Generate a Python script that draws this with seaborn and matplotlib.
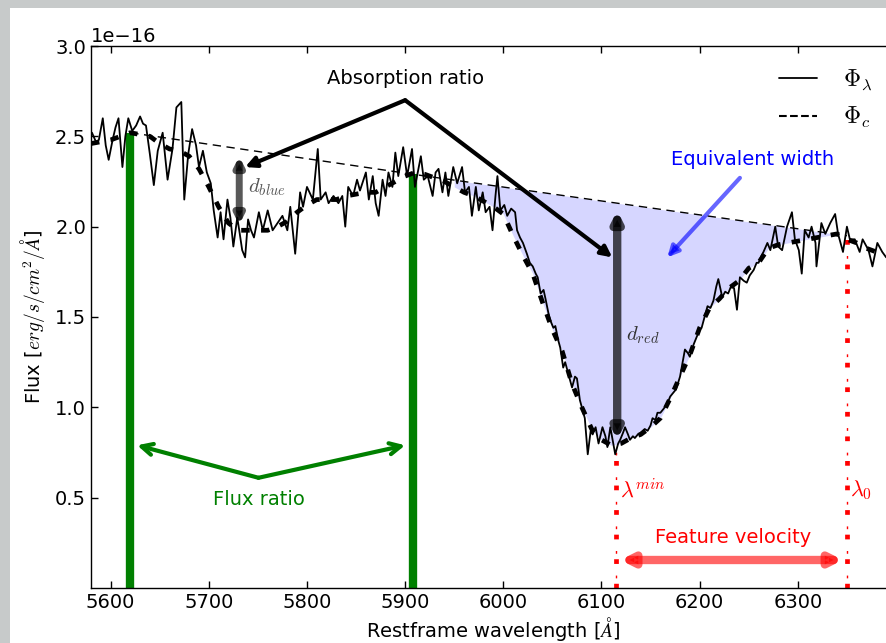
import numpy as np
import matplotlib
matplotlib.use('Agg')
import matplotlib.pyplot as plt
import seaborn as sns
import pandas as pd
from matplotlib.patches import Rectangle
from matplotlib.lines import Line2D

# ---------------- data (flux in units of 1e-16 erg/s/cm^2/A) ----------------
wave = [5581, 5585, 5588, 5592, 5595, 5598, 5602, 5605, 5608, 5612, 5615, 5618,
        5622, 5626, 5630, 5633, 5636, 5640, 5644, 5648, 5653, 5658, 5663, 5667,
        5672, 5675, 5679, 5683, 5687, 5690, 5694, 5698, 5702, 5705, 5709, 5712,
        5715, 5719, 5722, 5725, 5729, 5731, 5734, 5737, 5740, 5743, 5746, 5751,
        5755, 5760, 5765, 5770, 5775, 5780, 5783, 5788, 5793, 5796, 5800, 5806,
        5811, 5814, 5819, 5822, 5827, 5832, 5836, 5839, 5842, 5847, 5851, 5854,
        5860, 5863, 5867, 5870, 5873, 5877, 5880, 5883, 5887, 5890, 5893, 5898,
        5902, 5907, 5910, 5916, 5919, 5923, 5928, 5931, 5934, 5938, 5941, 5944,
        5949, 5953, 5958, 5961, 5965, 5968, 5972, 5975, 5979, 5982, 5986, 5989,
        5992, 5994, 5997, 6001, 6004, 6008, 6012, 6014, 6017, 6020, 6024, 6027,
        6030, 6033, 6035, 6038, 6041, 6043, 6046, 6048, 6051, 6053, 6056, 6058,
        6061, 6063, 6066, 6070, 6073, 6075, 6078, 6080, 6083, 6086, 6089, 6091,
        6094, 6097, 6101, 6104, 6106, 6109, 6112, 6114, 6117, 6119, 6122, 6124,
        6127, 6129, 6132, 6134, 6137, 6140, 6144, 6147, 6150, 6152, 6155, 6157,
        6160, 6163, 6167, 6170, 6173, 6176, 6180, 6183, 6185, 6188, 6190, 6194,
        6197, 6200, 6202, 6205, 6208, 6211, 6214, 6217, 6219, 6223, 6226, 6229,
        6232, 6235, 6238, 6241, 6245, 6248, 6251, 6255, 6258, 6260, 6263, 6265,
        6269, 6272, 6277, 6280, 6284, 6289, 6294, 6297, 6301, 6304, 6307, 6311,
        6314, 6318, 6319, 6324, 6328, 6333, 6338, 6341, 6346, 6350, 6353, 6358,
        6363, 6366, 6372, 6376, 6381, 6386, 6390, 6395, 6400]
flux = [2.52, 2.47, 2.48, 2.60, 2.45, 2.37, 2.48, 2.55, 2.60, 2.33, 2.50, 2.60,
        2.53, 2.56, 2.61, 2.57, 2.56, 2.40, 2.23, 2.42, 2.52, 2.26, 2.43, 2.66,
        2.69, 2.15, 2.40, 2.54, 2.45, 2.33, 2.42, 2.30, 2.24, 2.09, 1.94, 2.08,
        1.93, 2.15, 2.05, 1.89, 2.05, 1.98, 1.87, 1.83, 2.04, 1.98, 1.94, 2.08,
        1.98, 2.09, 1.98, 2.02, 2.06, 1.98, 2.11, 1.85, 2.19, 2.11, 2.22, 2.15,
        2.43, 2.15, 2.19, 2.13, 2.17, 2.13, 2.17, 2.00, 2.22, 2.17, 2.26, 2.20,
        2.30, 2.15, 2.28, 2.13, 2.06, 2.26, 2.17, 2.30, 2.22, 2.41, 2.28, 2.44,
        2.28, 2.43, 2.22, 2.39, 2.26, 2.28, 2.17, 2.30, 2.32, 2.19, 2.30, 2.17,
        2.33, 2.24, 2.33, 2.19, 2.22, 2.06, 2.22, 2.09, 2.19, 2.08, 2.11, 1.98,
        2.17, 2.28, 2.09, 2.12, 2.06, 2.10, 2.08, 1.98, 1.94, 1.91, 1.85, 1.80,
        1.78, 1.74, 1.72, 1.63, 1.65, 1.60, 1.52, 1.48, 1.44, 1.45, 1.37, 1.33,
        1.22, 1.25, 1.19, 1.11, 1.17, 1.16, 1.04, 1.00, 0.94, 0.74, 0.87, 0.85,
        0.89, 0.80, 0.89, 0.84, 0.78, 0.89, 0.80, 0.74, 0.80, 0.82, 0.86, 0.89,
        0.85, 0.82, 0.84, 0.83, 0.85, 0.86, 0.88, 0.87, 0.90, 0.94, 0.93, 0.97,
        0.97, 0.99, 1.02, 1.06, 1.08, 1.10, 1.17, 1.26, 1.32, 1.30, 1.28, 1.35,
        1.39, 1.43, 1.44, 1.50, 1.56, 1.55, 1.59, 1.67, 1.71, 1.61, 1.64, 1.63,
        1.67, 1.66, 1.54, 1.72, 1.70, 1.69, 1.73, 1.76, 1.80, 1.80, 1.84, 1.86,
        1.91, 1.87, 2.00, 1.89, 1.87, 2.00, 2.08, 1.93, 1.87, 1.74, 1.98, 1.94,
        2.00, 1.91, 1.78, 2.02, 1.96, 2.02, 2.07, 1.96, 1.86, 2.00, 1.93, 1.93,
        1.86, 1.93, 1.87, 1.78, 1.91, 1.86, 1.83, 1.85, 1.82]

smooth_wave = [5580, 5590, 5600, 5610, 5620, 5630, 5640, 5650, 5660, 5670, 5680,
               5690, 5700, 5710, 5720, 5730, 5740, 5750, 5760, 5770, 5780, 5790,
               5800, 5810, 5820, 5830, 5840, 5850, 5860, 5870, 5880, 5890, 5900,
               5910, 5920, 5930, 5940, 5950, 5960, 5970, 5980, 5990, 6000, 6010,
               6020, 6030, 6040, 6050, 6060, 6070, 6080, 6090, 6100, 6110, 6120,
               6130, 6140, 6150, 6160, 6170, 6180, 6190, 6200, 6210, 6220, 6230,
               6240, 6250, 6260, 6270, 6280, 6290, 6300, 6310, 6320, 6330, 6340,
               6350, 6360, 6370, 6380, 6390, 6400]
smooth_flux = [2.46, 2.47, 2.48, 2.50, 2.52, 2.51, 2.50, 2.46, 2.43, 2.42, 2.39,
               2.32, 2.22, 2.11, 2.02, 1.98, 1.98, 1.98, 1.98, 2.00, 2.03, 2.08,
               2.12, 2.15, 2.15, 2.15, 2.17, 2.18, 2.19, 2.19, 2.22, 2.25, 2.28,
               2.30, 2.29, 2.27, 2.25, 2.22, 2.19, 2.17, 2.14, 2.11, 2.07, 1.95,
               1.84, 1.74, 1.58, 1.43, 1.31, 1.13, 1.00, 0.88, 0.82, 0.79, 0.80,
               0.83, 0.85, 0.89, 0.94, 1.05, 1.17, 1.29, 1.44, 1.55, 1.60, 1.66,
               1.70, 1.77, 1.80, 1.88, 1.90, 1.91, 1.92, 1.93, 1.94, 1.95, 1.96,
               1.93, 1.91, 1.88, 1.86, 1.86, 1.85]

cont_wave = [5620, 5908, 6350]
cont_flux = [2.52, 2.29, 1.95]

ratio_wave = [5620, 5908]
ratio_top = [2.52, 2.29]

vel_wave = [6115, 6350]
vel_top = [0.76, 1.95]

ew_range = [5950, 6348]

xticks = [5600, 5700, 5800, 5900, 6000, 6100, 6200, 6300]
yticks = [0.5, 1.0, 1.5, 2.0, 2.5, 3.0]
SCALE = 1e-16

# ---------------- style ----------------
sns.set_style('ticks')
plt.rcParams['font.family'] = ['DejaVu Sans']
plt.rcParams['mathtext.fontset'] = 'cm'
plt.rcParams['xtick.direction'] = 'in'
plt.rcParams['ytick.direction'] = 'in'
plt.rcParams['xtick.top'] = True
plt.rcParams['ytick.right'] = True
plt.rcParams['axes.edgecolor'] = 'black'
plt.rcParams['axes.linewidth'] = 1.0
plt.rcParams['text.color'] = 'black'
plt.rcParams['axes.labelcolor'] = 'black'
plt.rcParams['xtick.color'] = 'black'
plt.rcParams['ytick.color'] = 'black'
plt.rcParams['xtick.labelcolor'] = 'black'
plt.rcParams['ytick.labelcolor'] = 'black'

fig = plt.figure(figsize=(8.86, 6.43), dpi=100, facecolor='#c7caca')
fig.add_artist(Rectangle((10 / 886, 0), 1, 1 - 8 / 643, transform=fig.transFigure,
                         facecolor='white', edgecolor='none', zorder=-10))
ax = fig.add_axes([91 / 886, 55 / 643, 805 / 886, 542 / 643])
ax.set_facecolor('white')

df = pd.DataFrame({'wave': wave, 'flux': np.array(flux) * SCALE})
sdf = pd.DataFrame({'wave': smooth_wave, 'flux': np.array(smooth_flux) * SCALE})

# equivalent width fill
sw = np.array(smooth_wave, dtype=float)
sf = np.array(smooth_flux)
mask = (sw >= ew_range[0]) & (sw <= ew_range[1])
cont_at = np.interp(sw, cont_wave, cont_flux)
ax.fill_between(sw[mask], sf[mask] * SCALE, cont_at[mask] * SCALE,
                color='blue', alpha=0.16, linewidth=0, zorder=1)

# flux ratio bars
for w, t in zip(ratio_wave, ratio_top):
    ax.vlines(w, 0, t * SCALE, color='green', linewidth=6, zorder=2)

# velocity lines (squares with thin dashes between)
for w, t in zip(vel_wave, vel_top):
    ax.vlines(w, 0, t * SCALE, color='red', linewidth=3.4,
              linestyles=[(0, (1.0, 4.2))], zorder=2)
    ax.vlines(w, 0, t * SCALE, color='red', linewidth=1.0,
              linestyles=[(-7.3, (2.0, 15.7))], zorder=2)

sns.lineplot(data=df, x='wave', y='flux', ax=ax, color='black', linewidth=1.3,
             estimator=None, sort=False, zorder=3)
sns.lineplot(data=sdf, x='wave', y='flux', ax=ax, color='black', linewidth=3.4,
             estimator=None, sort=False, zorder=4, linestyle=(0, (1.8, 2.4)))
ax.plot(cont_wave, np.array(cont_flux) * SCALE, color='black', linewidth=1.0,
        linestyle=(0, (6, 4)), zorder=4)

# ---------------- annotations ----------------
def arrow(tail, head, **kw):
    props = dict(shrinkA=0, shrinkB=0)
    props.update(kw)
    ax.annotate('', xy=(head[0], head[1] * SCALE), xytext=(tail[0], tail[1] * SCALE),
                arrowprops=props, zorder=6)

ax.text(5900, 2.82 * SCALE, 'Absorption ratio', fontsize=14, ha='center', va='center')
arrow((5900, 2.70), (5737, 2.33), arrowstyle='-|>', lw=3, color='black', mutation_scale=16)
arrow((5900, 2.70), (6111, 1.83), arrowstyle='-|>', lw=3, color='black', mutation_scale=16)

ax.text(5750.6, 0.49 * SCALE, 'Flux ratio', fontsize=14, ha='center', va='center', color='green')
arrow((5750.6, 0.61), (5627, 0.79), arrowstyle='->', lw=3, color='green', mutation_scale=20)
arrow((5750.6, 0.61), (5900, 0.79), arrowstyle='->', lw=3, color='green', mutation_scale=20)

ax.text(6254, 2.37 * SCALE, 'Equivalent width', fontsize=14, ha='center', va='center', color='blue')
arrow((6241, 2.27), (6167, 1.83), arrowstyle='-|>', lw=3, color='blue', alpha=0.6, mutation_scale=16)

ax.text(6234, 0.28 * SCALE, 'Feature velocity', fontsize=14, ha='center', va='center', color='red')
arrow((6119, 0.155), (6346, 0.155), arrowstyle='<|-|>', lw=6, color='red', alpha=0.6, mutation_scale=16)

arrow((5731, 2.39), (5731, 2.01), arrowstyle='<|-|>', lw=5, color='black', alpha=0.65, mutation_scale=12)
arrow((6116, 2.09), (6116, 0.82), arrowstyle='<|-|>', lw=6, color='black', alpha=0.7, mutation_scale=13)
ax.text(5740, 2.22 * SCALE, r'$d_{blue}$', fontsize=15, ha='left', va='center', color='#555555')
ax.text(6125, 1.40 * SCALE, r'$d_{red}$', fontsize=15, ha='left', va='center', color='#333333')

ax.text(6119, 0.54 * SCALE, r'$\lambda^{min}$', fontsize=16, ha='left', va='center', color='red')
ax.text(6353, 0.54 * SCALE, r'$\lambda_0$', fontsize=16, ha='left', va='center', color='red')

handles = [Line2D([], [], color='black', lw=1.3, ls='-'),
           Line2D([], [], color='black', lw=1.5, ls='--')]
ax.legend(handles, [r'$\Phi_\lambda$', r'$\Phi_c$'], loc='upper right',
          bbox_to_anchor=(0.997, 1.0), frameon=False, fontsize=17,
          handlelength=1.6, handletextpad=1.1, labelspacing=0.55)

# ---------------- axes ----------------
ax.set_xlim(5580, 6400)
ax.set_ylim(0, 3.0 * SCALE)
ax.set_xticks(xticks)
ax.set_yticks([v * SCALE for v in yticks])
ax.tick_params(axis='both', which='major', labelsize=14, length=5, width=1,
               color='black', labelcolor='black')
ax.yaxis.get_offset_text().set_fontsize(14)
ax.yaxis.get_offset_text().set_color('black')
ax.set_xlabel(r'Restframe wavelength [$\AA$]', fontsize=14, labelpad=2)
ax.set_ylabel(r'Flux [$erg/s/cm^2/\AA$]', fontsize=14, labelpad=6)
for s in ax.spines.values():
    s.set_visible(True)
    s.set_color('black')

fig.savefig('out.png', dpi=100, facecolor=fig.get_facecolor())
